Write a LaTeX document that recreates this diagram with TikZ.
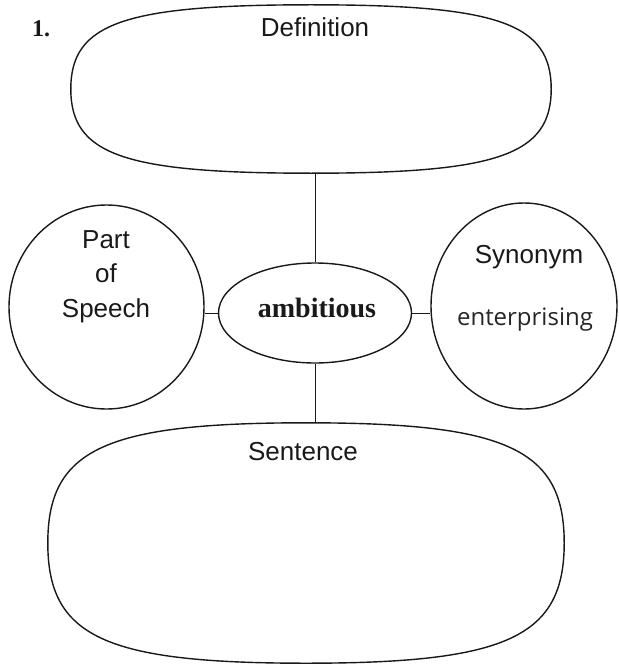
\documentclass[tikz,border=0pt]{standalone}
\usepackage{fontspec}
\usetikzlibrary{shapes.geometric,calc}
\newfontfamily\labfont{Liberation Sans}
\newfontfamily\handfont{Open Sans}
\newfontfamily\keyfont{Liberation Serif}
\tikzset{
  shapeline/.style={line width=1.4pt, black!90},
  conn/.style={line width=0.9pt, black!90},
  region/.style={draw=none, shape=rectangle, inner sep=0pt},
  oval/.style={ellipse, draw, shapeline, inner sep=0pt},
  lab/.style={font=\labfont\fontsize{26}{30}\selectfont, text=black!90, inner sep=0pt, anchor=base},
  key/.style={font=\keyfont\bfseries\fontsize{28}{32}\selectfont, text=black!90, inner sep=0pt, anchor=base},
  hand/.style={font=\handfont\fontsize{24}{28}\selectfont, text=black!85, inner sep=0pt, anchor=base},
  num/.style={font=\keyfont\bfseries\fontsize{24}{28}\selectfont, text=black!90, inner sep=0pt, anchor=base west}
}
\newcommand\squircle[1]{%
  \draw[shapeline] let \p1=(#1.center), \p2=(#1.north east), \n1={\x2-\x1}, \n2={\y2-\y1} in
    ({\x1+\n1},{\y1})
    .. controls ({\x1+\n1},{\y1+0.78*\n2}) and ({\x1+0.78*\n1},{\y1+\n2}) .. ({\x1},{\y1+\n2})
    .. controls ({\x1-0.78*\n1},{\y1+\n2}) and ({\x1-\n1},{\y1+0.78*\n2}) .. ({\x1-\n1},{\y1})
    .. controls ({\x1-\n1},{\y1-0.78*\n2}) and ({\x1-0.78*\n1},{\y1-\n2}) .. ({\x1},{\y1-\n2})
    .. controls ({\x1+0.78*\n1},{\y1-\n2}) and ({\x1+\n1},{\y1-0.78*\n2}) .. cycle;%
}
\begin{document}
\begin{tikzpicture}[x=1pt,y=-1pt]
\useasboundingbox (0,0) rectangle (618,666);
% regions
\node[region, minimum width=480pt, minimum height=168pt] (def) at (311,89) {};
\node[region, minimum width=516pt, minimum height=240pt] (sen) at (306,543) {};
\squircle{def}
\squircle{sen}
% ellipses
\node[oval, minimum width=193pt, minimum height=100pt] (amb) at (315,313) {};
\node[oval, minimum width=195pt, minimum height=204pt] (pos) at (106.5,307) {};
\node[oval, minimum width=186pt, minimum height=206pt] (syn) at (524,306) {};
% connectors
\draw[conn] (amb.north) -- (amb.north |- def.south);
\draw[conn] (amb.south) -- (amb.south |- sen.north);
\draw[conn] (amb.west) -- (amb.west -| pos.east);
\draw[conn] (amb.east) -- (amb.east -| syn.west);
% texts
\node[num] (n1) at (32,37) {1.};
\node[lab] (tdef) at (315,37) {Definition};
\node[lab] (tsen) at (303,460) {Sentence};
\node[lab] (tpart) at (106,248) {Part};
\node[lab] (tof) at (106,282) {of};
\node[lab] (tspeech) at (106,317) {Speech};
\node[lab] (tsyn) at (529,263) {Synonym};
\node[hand] (tent) at (525,325) {enterprising};
\node[key] (tamb) at (317,317) {ambitious};
\end{tikzpicture}
\end{document}
